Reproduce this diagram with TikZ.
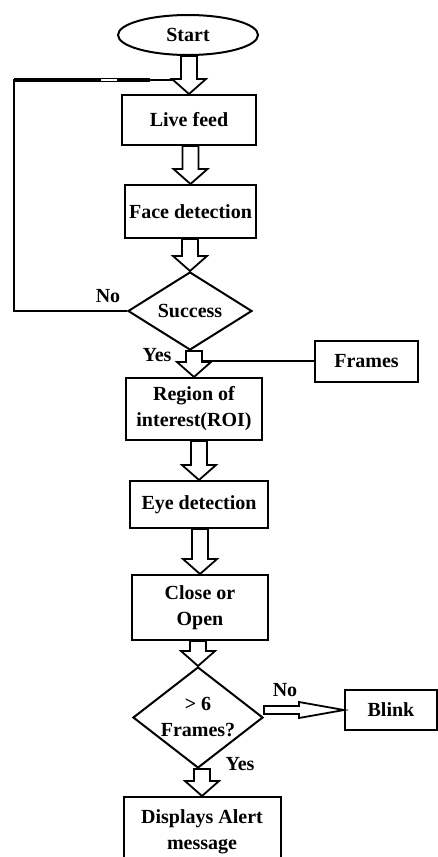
\documentclass[tikz,border=0pt]{standalone}
\usepackage{fontspec}
\setmainfont{Liberation Serif}
\usepackage{tikz}
\usetikzlibrary{shapes.geometric,calc}

\tikzset{
	box/.style={draw, line width=2pt, inner sep=0pt, align=center},
	decision/.style={draw, diamond, line width=2pt, inner sep=0pt, align=center},
	blockarrow/.style={draw, line width=1.8pt, fill=white, line join=miter},
	every node/.style={font=\bfseries\fontsize{20}{26}\selectfont}
}

% hollow arrow going down from node #1 to node #2
\newcommand{\hollowdown}[2]{
	\draw [blockarrow] let \p1=(#1.south), \p2=(#2.north) in
		(\x2-8,\y1) -- (\x2-8,\y2+15) -- (\x2-17,\y2+15) -- (\x2,\y2)
		-- (\x2+17,\y2+15) -- (\x2+8,\y2+15) -- (\x2+8,\y1) -- cycle;
}
% hollow arrow going right from node #1 to node #2
\newcommand{\hollowright}[2]{
	\draw [blockarrow] let \p1=(#1.east), \p2=(#2.west) in
		(\x1,\y2+4) -- (\x2-45,\y2+4) -- (\x2-45,\y2+8) -- (\x2,\y2)
		-- (\x2-45,\y2-8) -- (\x2-45,\y2-4) -- (\x1,\y2-4) -- cycle;
}

\begin{document}
\begin{tikzpicture}[x=1pt, y=-1pt]
	\useasboundingbox (0,0) rectangle (438,857);
	\clip (0,0) rectangle (438,857);

	\node [draw, ellipse, line width=2pt, minimum width=140pt, minimum height=40pt, inner sep=0pt] (start) at (188,35) {Start};
	\node [box, minimum width=134pt, minimum height=50pt] (live) at (189,120) {Live feed};
	\node [box, minimum width=131pt, minimum height=53pt] (face) at (190.5,211.5) {Face detection};
	\node [decision, minimum width=124pt, minimum height=78pt] (succ) at (190,311) {Success};
	\node [box, minimum width=103pt, minimum height=41pt] (frames) at (366.5,361) {Frames};
	\node [box, minimum width=136pt, minimum height=62pt] (roi) at (194,409) {Region of\\interest(ROI)};
	\node [box, minimum width=138pt, minimum height=47pt] (eye) at (199,504.5) {Eye detection};
	\node [box, minimum width=136pt, minimum height=65pt] (close) at (200,607.5) {Close or\\Open};
	\node [decision, aspect=1.3, minimum width=130pt, minimum height=101pt] (check) at (198,717.5) {> 6\\Frames?};
	\node [box, minimum width=92pt, minimum height=40pt] (blink) at (391,710) {Blink};
	\node [box, minimum width=157pt, minimum height=70pt] (alert) at (202,832) {Displays Alert\\message};

	% loop back when no face found
	\coordinate (loop) at (14,80);
	\coordinate (merge) at (181,80);
	\draw [line width=1.8pt] (succ.west) -| (loop) -- (merge);
	\draw [line width=3.5pt] (loop) -- (150,80);
	\draw [fill=white, line width=1pt] (100,78.3) rectangle (117,81.7);

	\hollowdown{start}{live}
	\hollowdown{live}{face}
	\hollowdown{face}{succ}
	\hollowdown{succ}{roi}
	\hollowdown{roi}{eye}
	\hollowdown{eye}{close}
	\hollowdown{close}{check}
	\hollowdown{check}{alert}
	\hollowright{check}{blink}

	\coordinate (tap) at (202,361);
	\draw [line width=1.8pt] (frames.west) -- (tap);

	\node (no1) at (108,296) {No};
	\node (yes1) at (157,355) {Yes};
	\node (no2) at (285,690) {No};
	\node (yes2) at (240,764) {Yes};
\end{tikzpicture}
\end{document}
